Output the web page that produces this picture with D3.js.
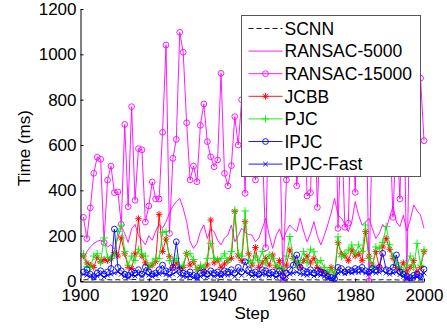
<!DOCTYPE html>
<html><head><meta charset="utf-8">
<script src="https://cdn.jsdelivr.net/npm/d3@7"></script>
<style>
html,body{margin:0;padding:0;background:#fff;}
svg{display:block;}
text{font-family:"Liberation Sans",Arial,Helvetica,sans-serif;fill:#000;}
</style></head><body>
<svg id="chart" width="447" height="329"></svg>
<script>
const steps = d3.range(1901, 2001);
const xTicks = [1900, 1920, 1940, 1960, 1980, 2000];
const yTicks = [0, 200, 400, 600, 800, 1000, 1200];
const seriesNames = ["SCNN", "RANSAC-5000", "RANSAC-15000", "JCBB", "PJC", "IPJC", "IPJC-Fast"];

const scnn = [5,6,4,5,7,5,4,6,5,5, 6,4,5,5,6,7,5,4,5,6, 5,5,6,4,5,6,5,7,5,4,
  5,6,5,4,5,5,6,5,4,5, 6,5,5,4,6,5,5,6,4,5, 5,6,4,5,6,5,5,4,3,5,
  6,5,5,6,4,5,5,6,5,4, 5,4,3,3,6,5,6,5,5,6, 5,6,5,4,5,6,5,6,5,5, 6,5,4,5,3,3,4,5,4,6];
const ransac5000 = [100,130,150,165,175,180,170,150,160,140, 190,240,210,170,230,250,200,180,160,200,
  180,220,250,233,260,300,330,350,365,320, 262,173,144,166,218,247,188,230,218,180,
  159,190,203,247,173,200,232,215,205,203, 173,190,232,277,203,144,200,230,180,220,
  247,230,218,277,220,173,210,262,200,159, 200,247,300,365,290,277,250,218,260,350,
  290,247,260,277,230,188,210,250,232,280, 330,260,240,290,220,270,335,310,291,233];
const ransac15000 = [281,187,323,475,546,537,170,445,507,390, 393,250,691,328,769,356,584,579,260,331,
  437,362,362,656,1041,210,541,625,1097,1009, 698,446,507,438,687,781,615,548,504,534,
  916,475,420,509,725,600,800,387,950,700, 446,820,600,147,900,650,1000,700,0,446,
  700,900,420,600,1000,375,390,850,325,700, 950,600,800,1100,232,700,237,255,800,391,
  900,650,1000,0,700,1150,800,600,950,700, 281,700,362,1000,0,850,1100,700,895,619];
const jcbb = [110,80,70,60,105,85,95,90,100,125, 110,190,120,60,55,120,275,110,80,60,
  70,85,294,130,185,107,60,80,55,60, 122,70,85,50,60,45,71,269,80,93,
  60,75,90,100,306,110,90,262,120,70, 148,60,80,100,70,115,60,90,40,70,
  137,100,80,60,90,110,80,100,60,50, 40,30,60,30,169,120,110,90,137,110,
  120,90,218,110,70,130,60,150,188,140, 100,60,50,80,40,60,90,40,60,129];
const pjc = [120,65,60,110,120,80,190,105,100,115, 218,247,130,70,110,90,140,120,110,60,
  80,100,100,215,218,90,90,100,60,70, 122,120,95,50,70,60,100,166,100,95,
  100,120,90,130,313,120,110,309,90,80, 110,90,130,80,115,100,70,60,50,110,
  196,100,70,90,130,80,140,129,80,90, 60,40,50,30,195,107,120,137,159,120,
  159,130,247,100,60,150,144,170,240,160, 110,80,60,40,70,110,60,166,70,137];
const ipjc = [40,50,30,20,35,45,30,40,55,229, 60,45,30,25,40,35,50,30,60,40,
  30,35,50,70,45,40,60,173,50,35, 30,40,25,20,35,40,30,45,35,40,
  30,45,40,50,35,60,40,85,50,35, 40,30,50,45,35,40,30,45,20,35,
  50,70,115,60,45,40,50,35,45,40, 35,20,15,10,60,55,40,50,45,55,
  50,60,45,40,55,50,60,122,50,45, 60,115,40,30,20,15,25,30,20,52];
const ipjcFast = [30,25,20,15,22,28,18,25,30,35, 40,30,20,15,25,22,30,20,35,25,
  20,25,30,35,28,22,30,40,25,20, 18,22,15,12,20,25,18,28,20,25,
  22,28,25,30,20,35,25,40,30,22, 25,20,30,28,22,25,18,25,10,20,
  30,35,40,32,28,25,30,22,28,25, 20,12,10,8,35,40,32,38,35,40,
  38,42,35,30,40,35,38,45,35,30, 35,40,28,20,12,10,15,18,12,35];

const series = [
  {name: seriesNames[0], values: scnn, color: "#000000", dash: "5,3", marker: null},
  {name: seriesNames[1], values: ransac5000, color: "#ff00ff", dash: null, marker: null},
  {name: seriesNames[2], values: ransac15000, color: "#ff00ff", dash: null, marker: "circle"},
  {name: seriesNames[3], values: jcbb, color: "#ff0000", dash: null, marker: "star"},
  {name: seriesNames[4], values: pjc, color: "#00ee00", dash: null, marker: "plus"},
  {name: seriesNames[5], values: ipjc, color: "#0000ff", dash: null, marker: "circle"},
  {name: seriesNames[6], values: ipjcFast, color: "#0000ff", dash: null, marker: "x"}
];

const svg = d3.select("#chart");
const L = 80, R = 424, T = 9, B = 281;
const x = d3.scaleLinear().domain([1900, 2000]).range([L, R]);
const y = d3.scaleLinear().domain([0, 1200]).range([B, T]);

svg.append("defs").append("clipPath").attr("id", "clip")
  .append("rect").attr("x", L).attr("y", T).attr("width", R - L + 4).attr("height", B - T + 1);

const markerPaths = {
  circle: "M2.9,0A2.9,2.9,0,1,1,-2.9,0A2.9,2.9,0,1,1,2.9,0Z",
  plus: "M-3.8,0H3.8M0,-3.8V3.8",
  star: "M-3.3,0H3.3M0,-3.3V3.3M-2.4,-2.4L2.4,2.4M-2.4,2.4L2.4,-2.4",
  x: "M-2.3,-2.3L2.3,2.3M-2.3,2.3L2.3,-2.3"
};

const plot = svg.append("g").attr("clip-path", "url(#clip)");
const line = d3.line().x((d, i) => x(steps[i])).y(d => y(d));
series.forEach(s => {
  plot.append("path").datum(s.values)
    .attr("d", line).attr("fill", "none")
    .attr("stroke", s.color).attr("stroke-width", 0.9)
    .attr("stroke-dasharray", s.dash);
  if (s.marker) {
    plot.append("g").selectAll("path").data(s.values).join("path")
      .attr("transform", (d, i) => `translate(${x(steps[i])},${y(d)})`)
      .attr("d", markerPaths[s.marker])
      .attr("fill", "none").attr("stroke", s.color).attr("stroke-width", 0.9);
  }
});

// axes
const fontSize = 17;
const xAxis = d3.axisBottom(x).tickValues(xTicks).tickFormat(d3.format("d"))
  .tickSizeInner(-3).tickSizeOuter(0).tickPadding(7);
const yAxis = d3.axisLeft(y).tickValues(yTicks).tickFormat(d3.format("d"))
  .tickSizeInner(-3).tickSizeOuter(0).tickPadding(4);
const gx = svg.append("g").attr("transform", `translate(0,${B + 0.5})`).call(xAxis);
const gy = svg.append("g").attr("transform", `translate(${L + 0.5},0)`).call(yAxis);
[gx, gy].forEach(g => {
  g.selectAll("text").attr("font-size", fontSize).attr("font-family", "Liberation Sans, Arial, sans-serif").attr("fill", "#000");
  g.selectAll("line,path").attr("stroke", "#000");
});

svg.append("text").attr("x", (L + R) / 2).attr("y", 319).attr("text-anchor", "middle")
  .attr("font-size", fontSize).text("Step");
svg.append("text").attr("transform", `translate(30,${(T + B) / 2 + 3}) rotate(-90)`)
  .attr("text-anchor", "middle").attr("font-size", fontSize).text("Time (ms)");

// legend
const lg = svg.append("g").attr("transform", "translate(241.5,15.5)");
lg.append("rect").attr("width", 179).attr("height", 161)
  .attr("fill", "#fff").attr("stroke", "#555").attr("stroke-width", 1);
series.forEach((s, i) => {
  const cy = 13 + i * 22.6;
  lg.append("line").attr("x1", 7).attr("x2", 41).attr("y1", cy).attr("y2", cy)
    .attr("stroke", s.color).attr("stroke-width", 0.9).attr("stroke-dasharray", s.dash);
  if (s.marker) {
    lg.append("path").attr("transform", `translate(24,${cy})`).attr("d", markerPaths[s.marker])
      .attr("fill", "none").attr("stroke", s.color).attr("stroke-width", 0.9);
  }
  lg.append("text").attr("x", 43).attr("y", cy).attr("dy", "0.36em")
    .attr("font-size", 17.5).text(s.name);
});
</script>
</body></html>
